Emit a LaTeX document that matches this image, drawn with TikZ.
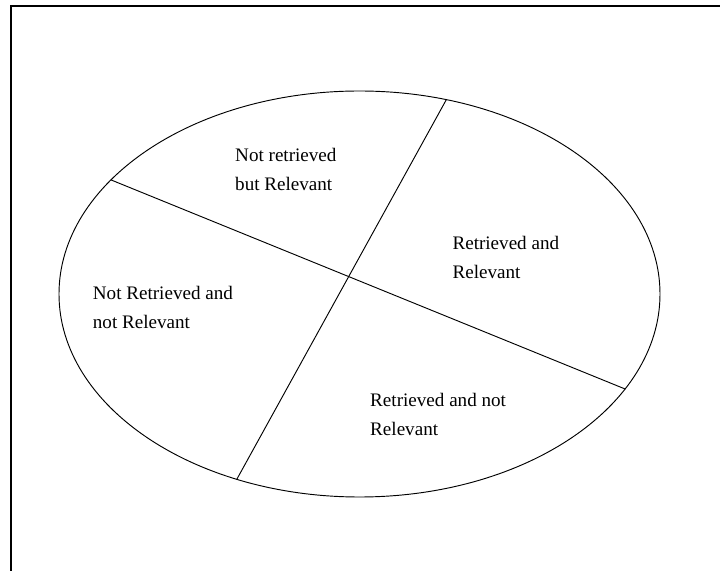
\documentclass[tikz,border=0pt]{standalone}
\usepackage{fontspec}
\setmainfont{Liberation Serif}

\begin{document}
\begin{tikzpicture}[x=1cm,y=1cm]
\tikzset{
  outline/.style={draw=black,line width=0.8pt},
  divider/.style={draw=black,line width=0.8pt,line cap=round},
  frameline/.style={draw=black,line width=1.6pt},
  regionlabel/.style={anchor=base west,align=left,inner sep=0pt,font=\fontsize{16.3}{24.8}\selectfont}
}
\useasboundingbox (-10.785,-8.31) rectangle (10.815,8.82);
\draw[frameline] (-10.455,-8.31) -- (-10.455,8.64) -- (10.815,8.64);
\draw[outline] (0,0) ellipse [x radius=9.015,y radius=6.09];
\coordinate (c_NW) at (145.8:9.015 and 6.09);
\coordinate (c_SE) at (-27.9:9.015 and 6.09);
\coordinate (c_NE) at (73.2:9.015 and 6.09);
\coordinate (c_SW) at (245.9:9.015 and 6.09);
\draw[divider] (c_NW) -- (c_SE);
\draw[divider] (c_NE) -- (c_SW);
% anchors sit on the baseline of the second line
\node[regionlabel] (l_NR) at (-3.735,3.09) {Not retrieved\\but Relevant};
\node[regionlabel] (l_RR) at (2.784,0.45) {Retrieved and\\Relevant};
\node[regionlabel] (l_NN) at (-8.004,-1.05) {Not Retrieved and\\not Relevant};
\node[regionlabel] (l_RN) at (0.315,-4.25) {Retrieved and not\\Relevant};
\end{tikzpicture}
\end{document}
